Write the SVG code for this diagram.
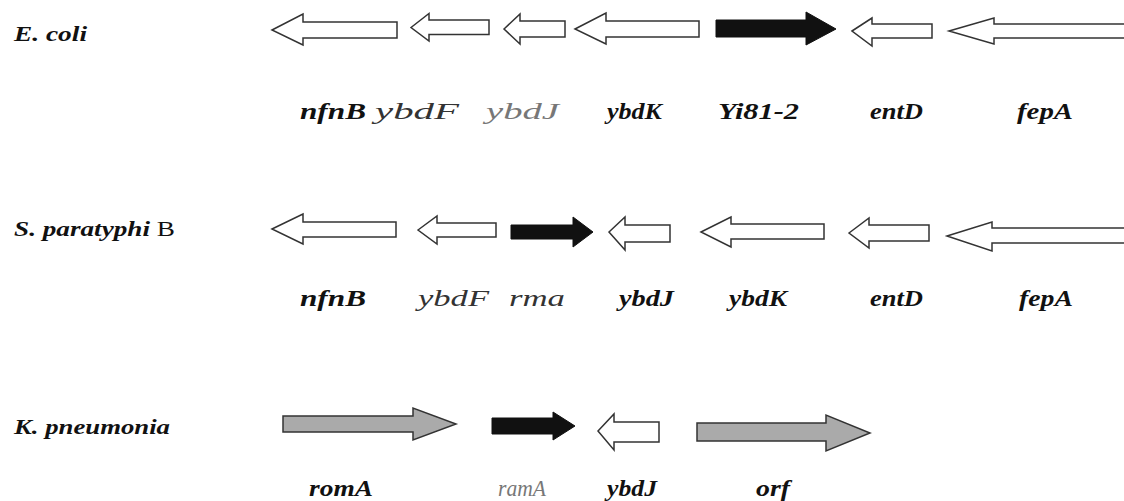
<svg xmlns="http://www.w3.org/2000/svg" width="1124" height="501" viewBox="0 0 1124 501">
<style>
  .w { fill: #fff; stroke: #333; stroke-width: 1.5; stroke-linejoin: miter; }
  .k { fill: #111; stroke: #111; stroke-width: 1; }
  .g { fill: #aaa; stroke: #333; stroke-width: 1.5; }
  .sp { font-family: "Liberation Serif", "Times New Roman", serif; font-size: 21px; font-weight: bold; font-style: italic; fill: #111; }
  .lb { font-family: "Liberation Serif", "Times New Roman", serif; font-size: 24px; font-style: italic; fill: #111; }
  .b { font-weight: bold; }
  .lt { font-weight: normal; fill: #333; }
  .ltg { font-weight: normal; fill: #777; }
</style>
<rect width="1124" height="501" fill="#fff"/>

<!-- Row 1: E. coli -->
<g id="species-ecoli"><text class="sp" x="14" y="41" textLength="73" lengthAdjust="spacingAndGlyphs">E. coli</text></g>
<g id="ecoli-nfnB">
  <polygon class="w" points="272,30 303,14 303,22 397,22 397,38 303,38 303,45"/>
  <text class="lb b" x="300" y="119" textLength="66" lengthAdjust="spacingAndGlyphs">nfnB</text>
</g>
<g id="ecoli-ybdF">
  <polygon class="w" points="411,27.5 429,13.5 429,20 489,20 489,34.5 429,34.5 429,41"/>
  <text class="lb lt" x="375" y="119" textLength="84" lengthAdjust="spacingAndGlyphs">ybdF</text>
</g>
<g id="ecoli-ybdJ">
  <polygon class="w" points="504,29 520,14 520,21 565,21 565,37 520,37 520,44"/>
  <text class="lb ltg" x="486" y="119" textLength="73" lengthAdjust="spacingAndGlyphs">ybdJ</text>
</g>
<g id="ecoli-ybdK">
  <polygon class="w" points="575,29 606,13 606,21 699,21 699,37 606,37 606,44"/>
  <text class="lb b" x="607" y="119" textLength="55" lengthAdjust="spacingAndGlyphs">ybdK</text>
</g>
<g id="ecoli-Yi81-2">
  <polygon class="k" points="716,20 806,20 806,12 836,29 806,45 806,37 716,37"/>
  <text class="lb b" x="718" y="119" textLength="81" lengthAdjust="spacingAndGlyphs">Yi81-2</text>
</g>
<g id="ecoli-entD">
  <polygon class="w" points="852,31 872,18 872,24 932,24 932,38 872,38 872,46"/>
  <text class="lb b" x="870" y="119" textLength="53" lengthAdjust="spacingAndGlyphs">entD</text>
</g>
<g id="ecoli-fepA">
  <polygon class="w" points="949,31 994,18 994,24 1130,24 1130,38 994,38 994,44"/>
  <text class="lb b" x="1017" y="119" textLength="56" lengthAdjust="spacingAndGlyphs">fepA</text>
</g>

<!-- Row 2: S. paratyphi B -->
<g id="species-sparatyphi"><text class="sp" x="14" y="236" textLength="161" lengthAdjust="spacingAndGlyphs">S. paratyphi <tspan font-style="normal" font-weight="normal">B</tspan></text></g>
<g id="sp-nfnB">
  <polygon class="w" points="272,229 303,214 303,222 396,222 396,237 303,237 303,244"/>
  <text class="lb b" x="300" y="306" textLength="66" lengthAdjust="spacingAndGlyphs">nfnB</text>
</g>
<g id="sp-ybdF">
  <polygon class="w" points="418,230 437,216 437,223 496,223 496,237 437,237 437,244"/>
  <text class="lb lt" x="418" y="306" textLength="71" lengthAdjust="spacingAndGlyphs">ybdF</text>
</g>
<g id="sp-rma">
  <polygon class="k" points="511,225 573,225 573,217 593,232 573,247 573,239 511,239"/>
  <text class="lb lt" x="509" y="306" textLength="56" lengthAdjust="spacingAndGlyphs">rma</text>
</g>
<g id="sp-ybdJ">
  <polygon class="w" points="609,232 625,217 625,225 670,225 670,242 625,242 625,250"/>
  <text class="lb b" x="619" y="306" textLength="55" lengthAdjust="spacingAndGlyphs">ybdJ</text>
</g>
<g id="sp-ybdK">
  <polygon class="w" points="701,232 731,217 731,224 824,224 824,239 731,239 731,247"/>
  <text class="lb b" x="729" y="306" textLength="58" lengthAdjust="spacingAndGlyphs">ybdK</text>
</g>
<g id="sp-entD">
  <polygon class="w" points="849,233 869,218 869,225 929,225 929,241 869,241 869,248"/>
  <text class="lb b" x="870" y="306" textLength="53" lengthAdjust="spacingAndGlyphs">entD</text>
</g>
<g id="sp-fepA">
  <polygon class="w" points="947,236 992,222 992,228 1130,228 1130,243 992,243 992,251"/>
  <text class="lb b" x="1019" y="306" textLength="54" lengthAdjust="spacingAndGlyphs">fepA</text>
</g>

<!-- Row 3: K. pneumonia -->
<g id="species-kpneumonia"><text class="sp" x="14" y="434" textLength="156" lengthAdjust="spacingAndGlyphs">K. pneumonia</text></g>
<g id="kp-romA">
  <polygon class="g" points="283,416 413,416 413,408 456,424 413,440 413,432 283,432"/>
  <text class="lb b" x="309" y="496" textLength="64" lengthAdjust="spacingAndGlyphs">romA</text>
</g>
<g id="kp-ramA">
  <polygon class="k" points="492,418 553,418 553,412 575,426 553,440 553,434 492,434"/>
  <text class="lb ltg" x="498" y="496" textLength="48" lengthAdjust="spacingAndGlyphs">ramA</text>
</g>
<g id="kp-ybdJ">
  <polygon class="w" points="598,431 614,414 614,422 659,422 659,442 614,442 614,450"/>
  <text class="lb b" x="607" y="496" textLength="50" lengthAdjust="spacingAndGlyphs">ybdJ</text>
</g>
<g id="kp-orf">
  <polygon class="g" points="697,423 826,423 826,415 870,433 826,451 826,441 697,441"/>
  <text class="lb b" x="756" y="496" textLength="34" lengthAdjust="spacingAndGlyphs">orf</text>
</g>
</svg>
